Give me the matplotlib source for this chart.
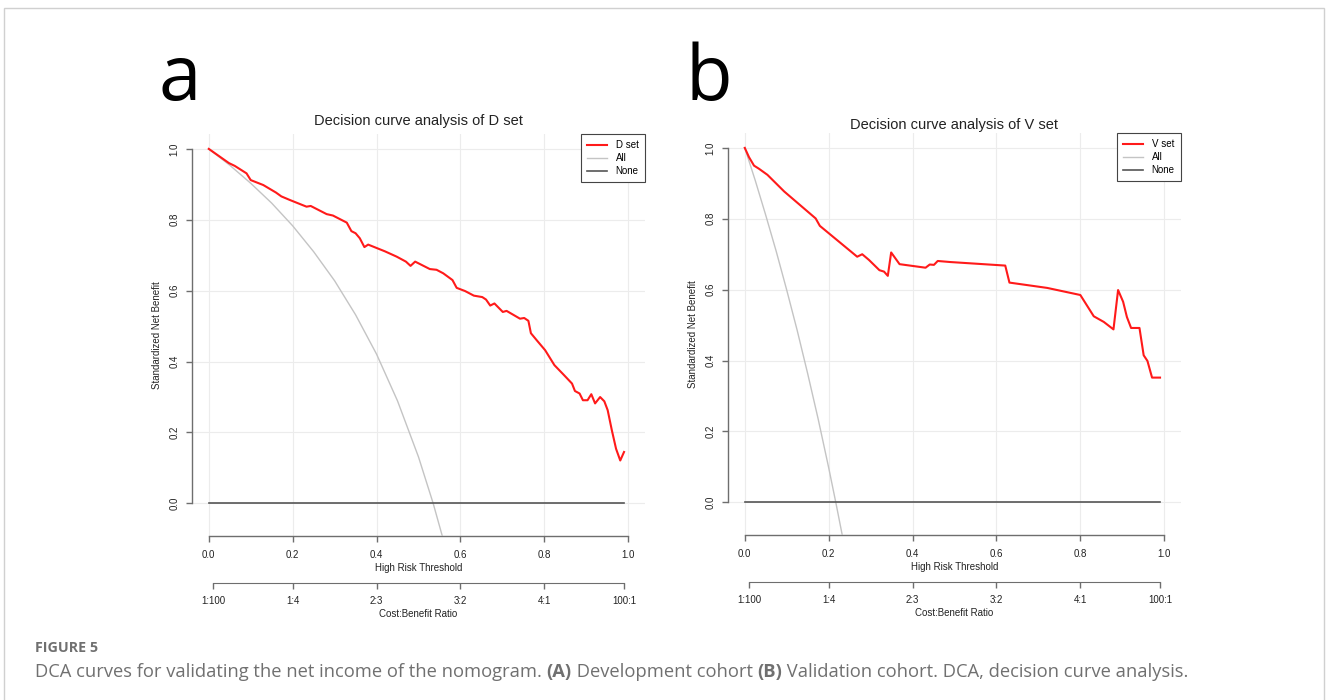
"""Decision curve analysis panels (D set / V set) with figure caption."""
import matplotlib
matplotlib.use('Agg')
import matplotlib.pyplot as plt
from matplotlib.patches import Rectangle
from matplotlib.ticker import FormatStrFormatter

plt.rcParams['font.family'] = ['Liberation Sans', 'DejaVu Sans']

# D set (development) decision curve
d_thr = [0.00, 0.048, 0.062, 0.09, 0.10, 0.13, 0.16, 0.173, 0.193, 0.233,
         0.243, 0.281, 0.296, 0.329, 0.34, 0.35, 0.36, 0.371, 0.38, 0.42,
         0.448, 0.47, 0.481, 0.492, 0.527, 0.543, 0.559, 0.581, 0.591, 0.611,
         0.632, 0.652, 0.661, 0.671, 0.681, 0.701, 0.71, 0.742, 0.752, 0.762,
         0.768, 0.782, 0.802, 0.824, 0.846, 0.866, 0.873, 0.884, 0.892, 0.903,
         0.912, 0.921, 0.933, 0.943, 0.951, 0.961, 0.971, 0.981, 0.99]
d_nb = [1.000, 0.960, 0.952, 0.931, 0.912, 0.898, 0.877, 0.866, 0.856, 0.837,
        0.839, 0.816, 0.812, 0.792, 0.768, 0.762, 0.748, 0.723, 0.730, 0.711,
        0.696, 0.682, 0.670, 0.682, 0.661, 0.659, 0.649, 0.630, 0.608, 0.599,
        0.586, 0.582, 0.575, 0.558, 0.564, 0.540, 0.543, 0.521, 0.523, 0.515,
        0.480, 0.460, 0.432, 0.390, 0.363, 0.338, 0.317, 0.310, 0.291, 0.291,
        0.308, 0.282, 0.300, 0.288, 0.263, 0.206, 0.154, 0.121, 0.145]
d_all_thr = [0.0, 0.05, 0.1, 0.15, 0.2, 0.25, 0.3, 0.35, 0.4, 0.45, 0.5,
             0.535, 0.56]
d_all_nb = [1.0, 0.954, 0.903, 0.847, 0.783, 0.710, 0.628, 0.532, 0.421,
            0.289, 0.131, 0.0, -0.106]

# V set (validation) decision curve
v_thr = [0.00, 0.01, 0.022, 0.034, 0.054, 0.094, 0.169, 0.179, 0.268, 0.28,
         0.296, 0.321, 0.332, 0.341, 0.349, 0.369, 0.431, 0.441, 0.451, 0.46,
         0.49, 0.621, 0.631, 0.721, 0.80, 0.832, 0.856, 0.879, 0.89, 0.902,
         0.911, 0.921, 0.941, 0.951, 0.96, 0.971, 0.99]
v_nb = [1.000, 0.974, 0.950, 0.941, 0.924, 0.877, 0.801, 0.780, 0.693, 0.700,
        0.684, 0.655, 0.651, 0.639, 0.705, 0.672, 0.662, 0.671, 0.670, 0.681,
        0.678, 0.668, 0.620, 0.605, 0.585, 0.525, 0.509, 0.488, 0.599, 0.566,
        0.523, 0.492, 0.492, 0.415, 0.399, 0.352, 0.352]
v_all_thr = [0.0, 0.025, 0.05, 0.075, 0.1, 0.125, 0.15, 0.175, 0.2, 0.217,
             0.235]
v_all_nb = [1.0, 0.908, 0.810, 0.708, 0.599, 0.485, 0.363, 0.235, 0.098, 0.0,
            -0.108]

none_thr = [0.0, 0.99]
none_nb = [0.0, 0.0]

x_ticks = [0.0, 0.2, 0.4, 0.6, 0.8, 1.0]
y_ticks = [0.0, 0.2, 0.4, 0.6, 0.8, 1.0]
ratio_pos = [0.01, 0.2, 0.4, 0.6, 0.8, 0.99]
ratio_labels = ['1:100', '1:4', '2:3', '3:2', '4:1', '100:1']

AXIS_COL = '#6e6e6e'
TXT_COL = '#222222'
CAP_COL = '#707070'

W, H = 1328, 700
fig = plt.figure(figsize=(W / 100, H / 100), dpi=100)
fig.patch.set_facecolor('white')


def panel(rect, thr, nb, all_thr, all_nb, name, title, title_dy):
    ax = fig.add_axes(rect)
    ax.set_xlim(-0.04, 1.04)
    ax.set_ylim(-0.092, 1.042)
    for v in x_ticks:
        ax.axvline(v, color='#ececec', lw=0.8, zorder=0)
    for v in y_ticks:
        ax.axhline(v, color='#ececec', lw=0.8, zorder=0)
    ax.plot(thr, nb, color='#ff1a1a', lw=1.5, label=name, zorder=4)
    ax.plot(all_thr, all_nb, color='#c4c4c4', lw=1.0, label='All', zorder=3)
    ax.plot(none_thr, none_nb, color='#555555', lw=1.2, label='None', zorder=3)

    for s in ['top', 'right']:
        ax.spines[s].set_visible(False)
    ax.spines['left'].set_bounds(0, 1)
    ax.spines['bottom'].set_bounds(0, 1)
    for s in ['left', 'bottom']:
        ax.spines[s].set_color(AXIS_COL)
        ax.spines[s].set_linewidth(1.0)
    ax.set_xticks(x_ticks)
    ax.set_yticks(y_ticks)
    ax.xaxis.set_major_formatter(FormatStrFormatter('%.1f'))
    ax.yaxis.set_major_formatter(FormatStrFormatter('%.1f'))
    ax.tick_params(direction='out', length=4, width=1.0, color=AXIS_COL,
                   labelsize=7, labelcolor=TXT_COL, pad=6)
    ax.tick_params(axis='y', labelrotation=90, pad=5)
    for lbl in ax.get_yticklabels():
        lbl.set_va('center')

    ax.set_xlabel('High Risk Threshold', fontsize=7, color=TXT_COL)
    ax.xaxis.label.set_va('center')
    ax.xaxis.set_label_coords(0.5, -0.08)
    ax.set_ylabel('Standardized Net Benefit', fontsize=7, color=TXT_COL)
    ax.yaxis.label.set_va('center')
    ax.yaxis.set_label_coords(-0.077, 0.5)

    sec = ax.secondary_xaxis(-0.118)
    sec.set_xticks(ratio_pos)
    sec.set_xticklabels(ratio_labels)
    sec.spines['bottom'].set_bounds(0.01, 0.99)
    sec.spines['bottom'].set_color(AXIS_COL)
    sec.tick_params(direction='out', length=4, width=1.0, color=AXIS_COL,
                    labelsize=7, labelcolor=TXT_COL, pad=5)
    ax.text(0.5, -0.194, 'Cost:Benefit Ratio', transform=ax.transAxes,
            ha='center', va='center', fontsize=7, color=TXT_COL)

    ax.text(0.5, 1 + title_dy, title, transform=ax.transAxes, ha='center',
            va='center', fontsize=10.5, color=TXT_COL)

    leg = ax.legend(loc='upper right', borderaxespad=0, fontsize=7,
                    fancybox=False, edgecolor='#444444', framealpha=1,
                    handlelength=2.0, labelspacing=0.3, borderpad=0.65,
                    handletextpad=0.9)
    leg.get_frame().set_linewidth(0.8)
    return ax


panel([192 / W, 1 - 536 / H, 453 / W, 402 / H], d_thr, d_nb,
      d_all_thr, d_all_nb, 'D set', 'Decision curve analysis of D set', 0.032)
panel([728 / W, 1 - 535 / H, 453 / W, 402 / H], v_thr, v_nb,
      v_all_thr, v_all_nb, 'V set', 'Decision curve analysis of V set', 0.02)

# panel letters
fig.text(159 / W, 1 - 100 / H, 'a', fontsize=55, family='Open Sans',
         ha='left', va='baseline', color='black')
fig.text(685 / W, 1 - 100 / H, 'b', fontsize=55, family='Open Sans',
         ha='left', va='baseline', color='black')

# outer frame of the figure box
fig.add_artist(Rectangle((4 / W, -0.02), 1320 / W, 1 - 8 / H + 0.02,
                         transform=fig.transFigure, fill=False,
                         edgecolor='#d0d0d0', lw=1.0))

# caption
fig.text(35 / W, 1 - 652 / H, 'FIGURE 5', fontsize=10.3, family='Open Sans',
         weight='bold', color=CAP_COL, ha='left', va='baseline')

CAP_SIZE = 13.2
pieces = [('DCA curves for validating the net income of the nomogram. ', 'normal'),
          ('(A)', 'bold'),
          (' Development cohort ', 'normal'),
          ('(B)', 'bold'),
          (' Validation cohort. DCA, decision curve analysis.', 'normal')]
renderer = fig.canvas.get_renderer()
x = 35 / W
for txt, wt in pieces:
    t = fig.text(x, 1 - 677 / H, txt, fontsize=CAP_SIZE, family='Open Sans',
                 weight=wt, color=CAP_COL, ha='left', va='baseline')
    # trailing spaces are not in the extent, so measure with a marker
    probe = fig.text(0, 0, txt + '|', fontsize=CAP_SIZE, family='Open Sans',
                     weight=wt)
    bar = fig.text(0, 0, '|', fontsize=CAP_SIZE, family='Open Sans',
                   weight=wt)
    w = (probe.get_window_extent(renderer=renderer).width -
         bar.get_window_extent(renderer=renderer).width)
    probe.remove()
    bar.remove()
    x += w / W

fig.savefig('out.png', dpi=100)
